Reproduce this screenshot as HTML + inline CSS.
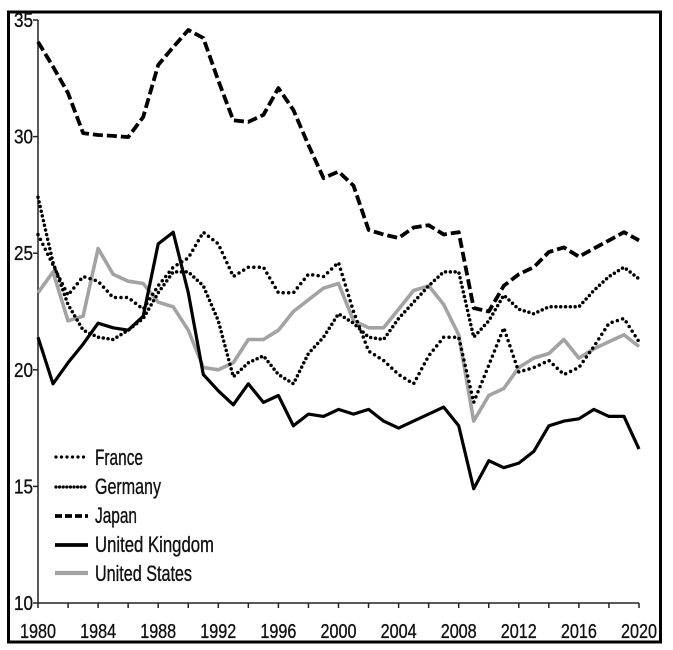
<!DOCTYPE html>
<html><head><meta charset="utf-8"><style>
html,body{margin:0;padding:0;background:#fff;}
svg{display:block;}
text{font-family:"Liberation Sans Narrow","Liberation Sans",sans-serif;fill:#111;stroke:#111;stroke-width:0.35;}
</style></head><body>
<svg id="c" width="673" height="650" viewBox="0 0 673 650" xmlns="http://www.w3.org/2000/svg">
<rect x="8.5" y="12" width="652" height="630" fill="none" stroke="#000" stroke-width="3"/>
<g id="axes" stroke="#222" stroke-width="1.5" fill="none">
<line x1="38" y1="20" x2="38" y2="603"/>
<line x1="38" y1="603" x2="639" y2="603"/>
</g>
<g id="ticks" stroke="#222" stroke-width="1.5"></g>
<g id="labels" font-size="18"></g>
<g id="series" fill="none" stroke-linejoin="round"></g>
<g id="legend">
<line x1="56" y1="457" x2="88" y2="457" stroke="#000" stroke-width="3.3" stroke-dasharray="0 5.5" stroke-linecap="round"/>
<line x1="56" y1="487" x2="88" y2="487" stroke="#000" stroke-width="3.3" stroke-dasharray="0 3.6" stroke-linecap="round"/>
<line x1="55" y1="516" x2="88" y2="516" stroke="#000" stroke-width="3.8" stroke-dasharray="7 3"/>
<line x1="55" y1="545" x2="88" y2="545" stroke="#000" stroke-width="3.8"/>
<line x1="55" y1="573" x2="88" y2="573" stroke="#a3a3a3" stroke-width="4.2"/>
<text x="95" y="465" font-size="22" textLength="48" lengthAdjust="spacingAndGlyphs">France</text>
<text x="95" y="494" font-size="22" textLength="66" lengthAdjust="spacingAndGlyphs">Germany</text>
<text x="95" y="523" font-size="22" textLength="42" lengthAdjust="spacingAndGlyphs">Japan</text>
<text x="95" y="552" font-size="22" textLength="119" lengthAdjust="spacingAndGlyphs">United Kingdom</text>
<text x="95" y="581" font-size="22" textLength="97" lengthAdjust="spacingAndGlyphs">United States</text>
</g>
</svg>
<script>
var NS="http://www.w3.org/2000/svg";
function X(yr){return 38+(yr-1980)*15.025;}
function Y(v){return 603-(v-10)*23.32;}
function el(t,a,p,txt){var e=document.createElementNS(NS,t);for(var k in a)e.setAttribute(k,a[k]);if(txt)e.textContent=txt;document.getElementById(p).appendChild(e);return e;}
for(var v=10;v<=35;v+=5){el("line",{x1:33,y1:Y(v),x2:38,y2:Y(v)},"ticks");
 el("text",{x:33,y:Y(v)+7,"text-anchor":"end","font-size":20,textLength:19,lengthAdjust:"spacingAndGlyphs"},"labels",""+v);}
for(var yr=1980;yr<=2020;yr+=2){el("line",{x1:X(yr),y1:603,x2:X(yr),y2:608},"ticks");}
for(var yr=1980;yr<=2020;yr+=4){el("text",{x:X(yr),y:638,"text-anchor":"middle","font-size":20,textLength:36,lengthAdjust:"spacingAndGlyphs"},"labels",""+yr);}
var japan=[34.06,33.0,31.87,30.15,30.07,30.03,29.98,30.84,33.07,33.84,34.57,34.23,32.4,30.7,30.63,30.93,32.08,31.14,29.64,28.22,28.5,27.9,26.0,25.8,25.65,26.1,26.2,25.8,25.9,22.65,22.5,23.6,24.1,24.4,25.05,25.25,24.85,25.2,25.55,25.9,25.55];
var P=[25.8,24.5,23.2,24.0,23.8,23.1,23.1,22.6,23.6,24.4,24.8,25.9,25.4,24.0,24.4,24.4,23.3,23.3,24.1,24.0,24.6,22.5,20.8,20.4,19.8,19.4,20.6,21.4,21.4,18.6,20.2,21.8,19.9,20.1,20.4,19.8,20.1,21.0,22.0,22.2,21.2];
var Q=[27.4,24.6,22.8,21.7,21.4,21.3,21.7,22.2,23.3,24.2,24.2,23.6,22.1,19.7,20.3,20.6,19.8,19.4,20.7,21.4,22.4,22.0,21.4,21.3,22.2,22.9,23.6,24.2,24.2,21.4,22.1,23.2,22.6,22.4,22.7,22.7,22.7,23.4,24.0,24.4,23.9];
var uk=[21.4,19.4,20.3,21.1,22.0,21.8,21.7,22.3,25.4,25.9,23.3,19.8,19.1,18.5,19.4,18.6,18.9,17.6,18.1,18.0,18.3,18.1,18.3,17.8,17.5,17.8,18.1,18.4,17.6,14.9,16.1,15.8,16.0,16.5,17.6,17.8,17.9,18.3,18.0,18.0,16.6];
var us=[23.3,24.2,22.1,22.3,25.2,24.1,23.8,23.7,22.9,22.7,21.7,20.1,20.0,20.3,21.3,21.3,21.7,22.5,23.0,23.5,23.7,22.1,21.8,21.8,22.6,23.4,23.6,22.8,21.5,17.8,18.9,19.2,20.1,20.5,20.7,21.3,20.5,20.9,21.2,21.5,21.0];
function pts(a){return a.map(function(v,i){return X(1980+i).toFixed(1)+","+Y(v).toFixed(1);}).join(" ");}
el("polyline",{points:pts(us),stroke:"#a3a3a3","stroke-width":3.6},"series");
el("polyline",{points:pts(uk),stroke:"#000","stroke-width":3.2},"series");
el("polyline",{points:pts(P),stroke:"#000","stroke-width":3.5,"stroke-dasharray":"0 5.5","stroke-linecap":"round"},"series");
el("polyline",{points:pts(Q),stroke:"#000","stroke-width":3.5,"stroke-dasharray":"0 4.8","stroke-linecap":"round"},"series");
el("polyline",{points:pts(japan),stroke:"#000","stroke-width":3.8,"stroke-dasharray":"10 4"},"series");
</script>
</body></html>
